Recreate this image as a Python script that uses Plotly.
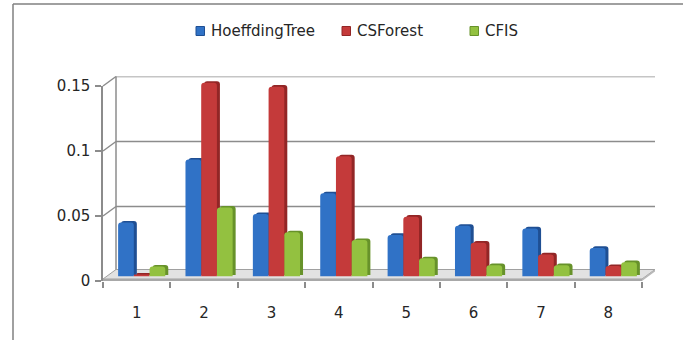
import plotly.graph_objects as go

# ---- data ----
categories = ["1", "2", "3", "4", "5", "6", "7", "8"]
series_names = ["HoeffdingTree", "CSForest", "CFIS"]
hoeffding_tree = [0.0415, 0.090, 0.048, 0.064, 0.032, 0.039, 0.037, 0.022]
cs_forest = [0.001, 0.149, 0.146, 0.0925, 0.046, 0.026, 0.017, 0.008]
cfis = [0.0077, 0.053, 0.034, 0.028, 0.014, 0.0087, 0.0087, 0.011]
y_tick_values = [0, 0.05, 0.1, 0.15]
y_tick_labels = ["0", "0.05", "0.1", "0.15"]

series_values = [hoeffding_tree, cs_forest, cfis]
face_colors = ["#3072c6", "#c43a3a", "#93c140"]
side_colors = ["#1f4f93", "#922626", "#67922a"]

# ---- geometry of the pseudo-3D box (pixels) ----
W, H = 683, 340
X_LEFT, X_RIGHT = 103, 642      # front axis span
Y_ZERO, Y_TOP = 281, 86         # front axis: pixel of 0 and of the top value
Y_MAX = 0.15
DEPTH_X, DEPTH_Y = 13, 9.5      # offset of the back wall
GRID = "#8c8c8c"
FONT = dict(family="DejaVu Sans", size=15, color="#262626")


def dom_x(shift):
    return [(X_LEFT + shift) / W, (X_RIGHT + shift) / W]


def dom_y(shift):
    return [(H - (Y_ZERO - shift)) / H, (H - (Y_TOP - shift)) / H]


def px(x, y):
    return x / W, (H - y) / H


def y_front(v):
    return Y_ZERO - v / Y_MAX * (Y_ZERO - Y_TOP)


fig = go.Figure()

# invisible anchor so the front category axis knows its categories
fig.add_trace(go.Scatter(x=categories, y=[0] * len(categories), mode="markers",
                         marker=dict(opacity=0), showlegend=False,
                         hoverinfo="skip"))
# same for the back wall
fig.add_trace(go.Scatter(x=categories, y=[0] * len(categories), mode="markers",
                         marker=dict(opacity=0), showlegend=False,
                         hoverinfo="skip", xaxis="x2", yaxis="y2"))

# darker extrusion (side/top faces) drawn first, the front faces above it
for name, vals, col in zip(series_names, series_values, side_colors):
    fig.add_trace(go.Bar(x=categories, y=vals, name=name, marker_color=col,
                         marker_line_width=0, xaxis="x3", yaxis="y3",
                         showlegend=False, hoverinfo="skip"))
for name, vals, col in zip(series_names, series_values, face_colors):
    fig.add_trace(go.Bar(x=categories, y=vals, name=name, marker_color=col,
                         marker_line_width=0, xaxis="x4", yaxis="y4",
                         showlegend=False))

cat_range = [-0.5, len(categories) - 0.5]


def hidden_x(shift, anchor):
    return dict(domain=dom_x(shift), type="category", range=cat_range,
                anchor=anchor, visible=False, fixedrange=True,
                automargin=False)


def hidden_y(shift, anchor):
    return dict(domain=dom_y(shift), range=[0, Y_MAX], anchor=anchor,
                visible=False, fixedrange=True, automargin=False)


fig.update_layout(
    width=W, height=H,
    margin=dict(l=0, r=0, t=0, b=0, autoexpand=False),
    paper_bgcolor="white", plot_bgcolor="rgba(0,0,0,0)",
    barmode="group", bargap=0.3, bargroupgap=0, barcornerradius=3,
    font=FONT,
    xaxis=dict(domain=dom_x(0), type="category", range=cat_range,
               tickson="boundaries", ticks="outside", ticklen=6,
               tickwidth=1.5, tickcolor=GRID, showgrid=False,
               showline=False, zeroline=False, ticklabelstandoff=21,
               tickfont=FONT, fixedrange=True, automargin=False),
    yaxis=dict(domain=dom_y(0), range=[0, Y_MAX], tickvals=y_tick_values,
               ticktext=y_tick_labels, ticks="outside", ticklen=6,
               tickwidth=1.5, tickcolor=GRID, showline=True, linecolor=GRID,
               linewidth=1.5, showgrid=False, zeroline=False,
               ticklabelstandoff=2, tickfont=FONT, fixedrange=True,
               automargin=False),
    xaxis2=hidden_x(DEPTH_X, "y2"),
    yaxis2=hidden_y(DEPTH_Y, "x2"),
    xaxis3=hidden_x(5 + 3, "y3"),
    yaxis3=hidden_y(4.5 + 1.6, "x3"),
    xaxis4=hidden_x(5, "y4"),
    yaxis4=hidden_y(4.5, "x4"),
)

shapes = []
# outer frame (left and top edges)
shapes.append(dict(type="line", xref="paper", yref="paper",
                   x0=13 / W, x1=13 / W, y0=0, y1=(H - 4) / H,
                   line=dict(color="#808080", width=1.5)))
shapes.append(dict(type="line", xref="paper", yref="paper",
                   x0=13 / W, x1=1, y0=(H - 4) / H, y1=(H - 4) / H,
                   line=dict(color="#808080", width=1.5)))

# back wall gridlines and its left edge
for v in y_tick_values[1:]:
    shapes.append(dict(type="line", xref="x2 domain", yref="y2",
                       x0=0, x1=1, y0=v, y1=v, layer="below",
                       line=dict(color=GRID, width=1.5)))
shapes.append(dict(type="line", xref="x2 domain", yref="y2 domain",
                   x0=0, x1=0, y0=0, y1=1, layer="below",
                   line=dict(color=GRID, width=1.5)))

# side wall diagonals linking the front ticks to the back gridlines
for v in y_tick_values[1:]:
    fx, fy = px(X_LEFT, y_front(v))
    bx, by = px(X_LEFT + DEPTH_X, y_front(v) - DEPTH_Y)
    shapes.append(dict(type="line", xref="paper", yref="paper",
                       x0=fx, y0=fy, x1=bx, y1=by, layer="below",
                       line=dict(color=GRID, width=1.5)))

# floor slab
p = [px(X_LEFT, Y_ZERO - 2), px(X_RIGHT, Y_ZERO - 2),
     px(X_RIGHT + DEPTH_X, Y_ZERO - 2 - DEPTH_Y),
     px(X_LEFT + DEPTH_X, Y_ZERO - 2 - DEPTH_Y)]
path = "M {} {} L {} {} L {} {} L {} {} Z".format(*[c for pt in p for c in pt])
shapes.append(dict(type="path", xref="paper", yref="paper", path=path,
                   fillcolor="#e2e2e2", line=dict(color="#a0a0a0", width=1),
                   layer="below"))
fx0, fy0 = px(X_LEFT, Y_ZERO - 2)
fx1, fy1 = px(X_RIGHT, Y_ZERO)
shapes.append(dict(type="rect", xref="paper", yref="paper",
                   x0=fx0, x1=fx1, y0=fy1, y1=fy0, fillcolor="#a8a8a8",
                   line=dict(width=0), layer="below"))
rp = [px(X_RIGHT, Y_ZERO), px(X_RIGHT, Y_ZERO - 2),
      px(X_RIGHT + DEPTH_X, Y_ZERO - 2 - DEPTH_Y),
      px(X_RIGHT + DEPTH_X, Y_ZERO - DEPTH_Y)]
rpath = "M {} {} L {} {} L {} {} L {} {} Z".format(*[c for pt in rp for c in pt])
shapes.append(dict(type="path", xref="paper", yref="paper", path=rpath,
                   fillcolor="#b8b8b8", line=dict(width=0), layer="below"))

# legend
annotations = []
legend_x = [196, 342, 470]
for name, col, side, lx in zip(series_names, face_colors, side_colors, legend_x):
    x0, y0 = px(lx, 35.5)
    x1, y1 = px(lx + 8.5, 26.5)
    shapes.append(dict(type="rect", xref="paper", yref="paper",
                       x0=x0, x1=x1, y0=y0, y1=y1, fillcolor=col,
                       line=dict(color=side, width=1)))
    tx, ty = px(lx + 12.5, 31)
    annotations.append(dict(text=name, x=tx, y=ty, xref="paper", yref="paper",
                            xanchor="left", yanchor="middle", showarrow=False,
                            font=FONT))

fig.update_layout(shapes=shapes, annotations=annotations)
fig.write_html("out.html")
